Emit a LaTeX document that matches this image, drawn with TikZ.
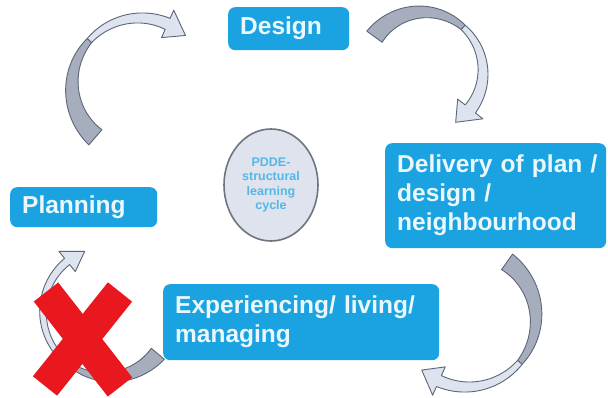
\documentclass[tikz,border=0pt]{standalone}
\usepackage{fontspec}
\setmainfont{Liberation Sans}
\usetikzlibrary{shapes.geometric}

\definecolor{boxblue}{RGB}{26,163,224}
\definecolor{boxtext}{RGB}{234,247,253}
\definecolor{ringfill}{RGB}{222,227,238}
\definecolor{ringline}{RGB}{110,116,128}
\definecolor{ringtext}{RGB}{84,184,230}
\definecolor{arrlight}{RGB}{221,227,239}
\definecolor{arrdark}{RGB}{166,174,189}
\definecolor{arrline}{RGB}{92,102,118}
\definecolor{crossred}{RGB}{232,24,30}

% back of a curved arrow: radius, from, to, width at from, width at to
\newcommand{\arrback}[5]{%
  \filldraw[fill=arrdark,draw=arrline,line width=0.9pt,line join=round]
    plot[domain=#2:#3,samples=30] ({(#1+(#4+(#5-(#4))*(\x-(#2))/((#3)-(#2)))/2)*cos(\x)},{(#1+(#4+(#5-(#4))*(\x-(#2))/((#3)-(#2)))/2)*sin(\x)})
    -- plot[domain=#3:#2,samples=30] ({(#1-(#4+(#5-(#4))*(\x-(#2))/((#3)-(#2)))/2)*cos(\x)},{(#1-(#4+(#5-(#4))*(\x-(#2))/((#3)-(#2)))/2)*sin(\x)})
    -- cycle;}
% front of a curved arrow with its head: ..., head width, head angle
\newcommand{\arrfront}[7]{%
  \filldraw[fill=arrlight,draw=arrline,line width=0.9pt,line join=round]
    plot[domain=#2:#3,samples=30] ({(#1+(#4+(#5-(#4))*(\x-(#2))/((#3)-(#2)))/2)*cos(\x)},{(#1+(#4+(#5-(#4))*(\x-(#2))/((#3)-(#2)))/2)*sin(\x)})
    -- ({#3}:{#1+#6/2}) -- ({#3-#7}:{#1}) -- ({#3}:{#1-#6/2})
    -- plot[domain=#3:#2,samples=30] ({(#1-(#4+(#5-(#4))*(\x-(#2))/((#3)-(#2)))/2)*cos(\x)},{(#1-(#4+(#5-(#4))*(\x-(#2))/((#3)-(#2)))/2)*sin(\x)})
    -- cycle;}

\tikzset{
  stage/.style={rectangle, rounded corners=7pt, fill=boxblue, text=boxtext,
    font=\bfseries\fontsize{24.5}{29}\selectfont, align=left,
    inner xsep=12pt, inner ysep=0pt, anchor=north west},
  hub/.style={ellipse, draw=ringline, line width=1.6pt, fill=ringfill, text=ringtext,
    font=\bfseries\fontsize{12.5}{14.5}\selectfont, align=center, inner sep=0pt}
}

\begin{document}
\begin{tikzpicture}[x=1pt,y=1pt]
\fill[white] (0,0) rectangle (608,398);
\useasboundingbox (0,0) rectangle (608,398);

\node[stage, text width=97pt, minimum height=43pt] (design) at (228,391) {Design};
\node[stage, text width=123pt, minimum height=40pt] (planning) at (10,211) {Planning};
\node[stage, text width=197pt, minimum height=105pt] (delivery) at (385,255)
  {Delivery~of~plan~/\\design /\\neighbourhood};
\node[stage, text width=252pt, minimum height=76pt] (experiencing) at (163,114)
  {Experiencing/ living/\\managing};
\node[hub, minimum width=94pt, minimum height=112pt] (pdde) at (271,213)
  {PDDE-\\structural\\learning\\cycle};

\coordinate (c1) at (140,312);
\coordinate (c2) at (423,326);
\coordinate (c3) at (467,80);
\coordinate (c4) at (108,86);

\begin{scope}[shift={(c1)}]
  \arrback{68}{229}{138}{20}{6}
  \arrfront{68}{138}{66}{6}{12}{30}{18}
\end{scope}
\begin{scope}[shift={(c2)}]
  \arrback{60}{144}{48}{19}{6}
  \arrfront{60}{48}{-38}{6}{13}{32}{19}
\end{scope}
\begin{scope}[shift={(c3)}]
  \arrback{69}{54.5}{-40}{19}{6}
  \arrfront{69}{-40}{-114}{6}{12}{31}{17}
\end{scope}
\begin{scope}[shift={(c4)}]
  \arrback{65}{-40}{-120}{17}{5}
  \arrfront{65}{-120}{-231}{5}{8}{26}{18}
\end{scope}

\draw[crossred, line width=31pt] (46,106) -- (120,11);
\draw[crossred, line width=31pt] (120,106) -- (45,12);
\end{tikzpicture}
\end{document}
